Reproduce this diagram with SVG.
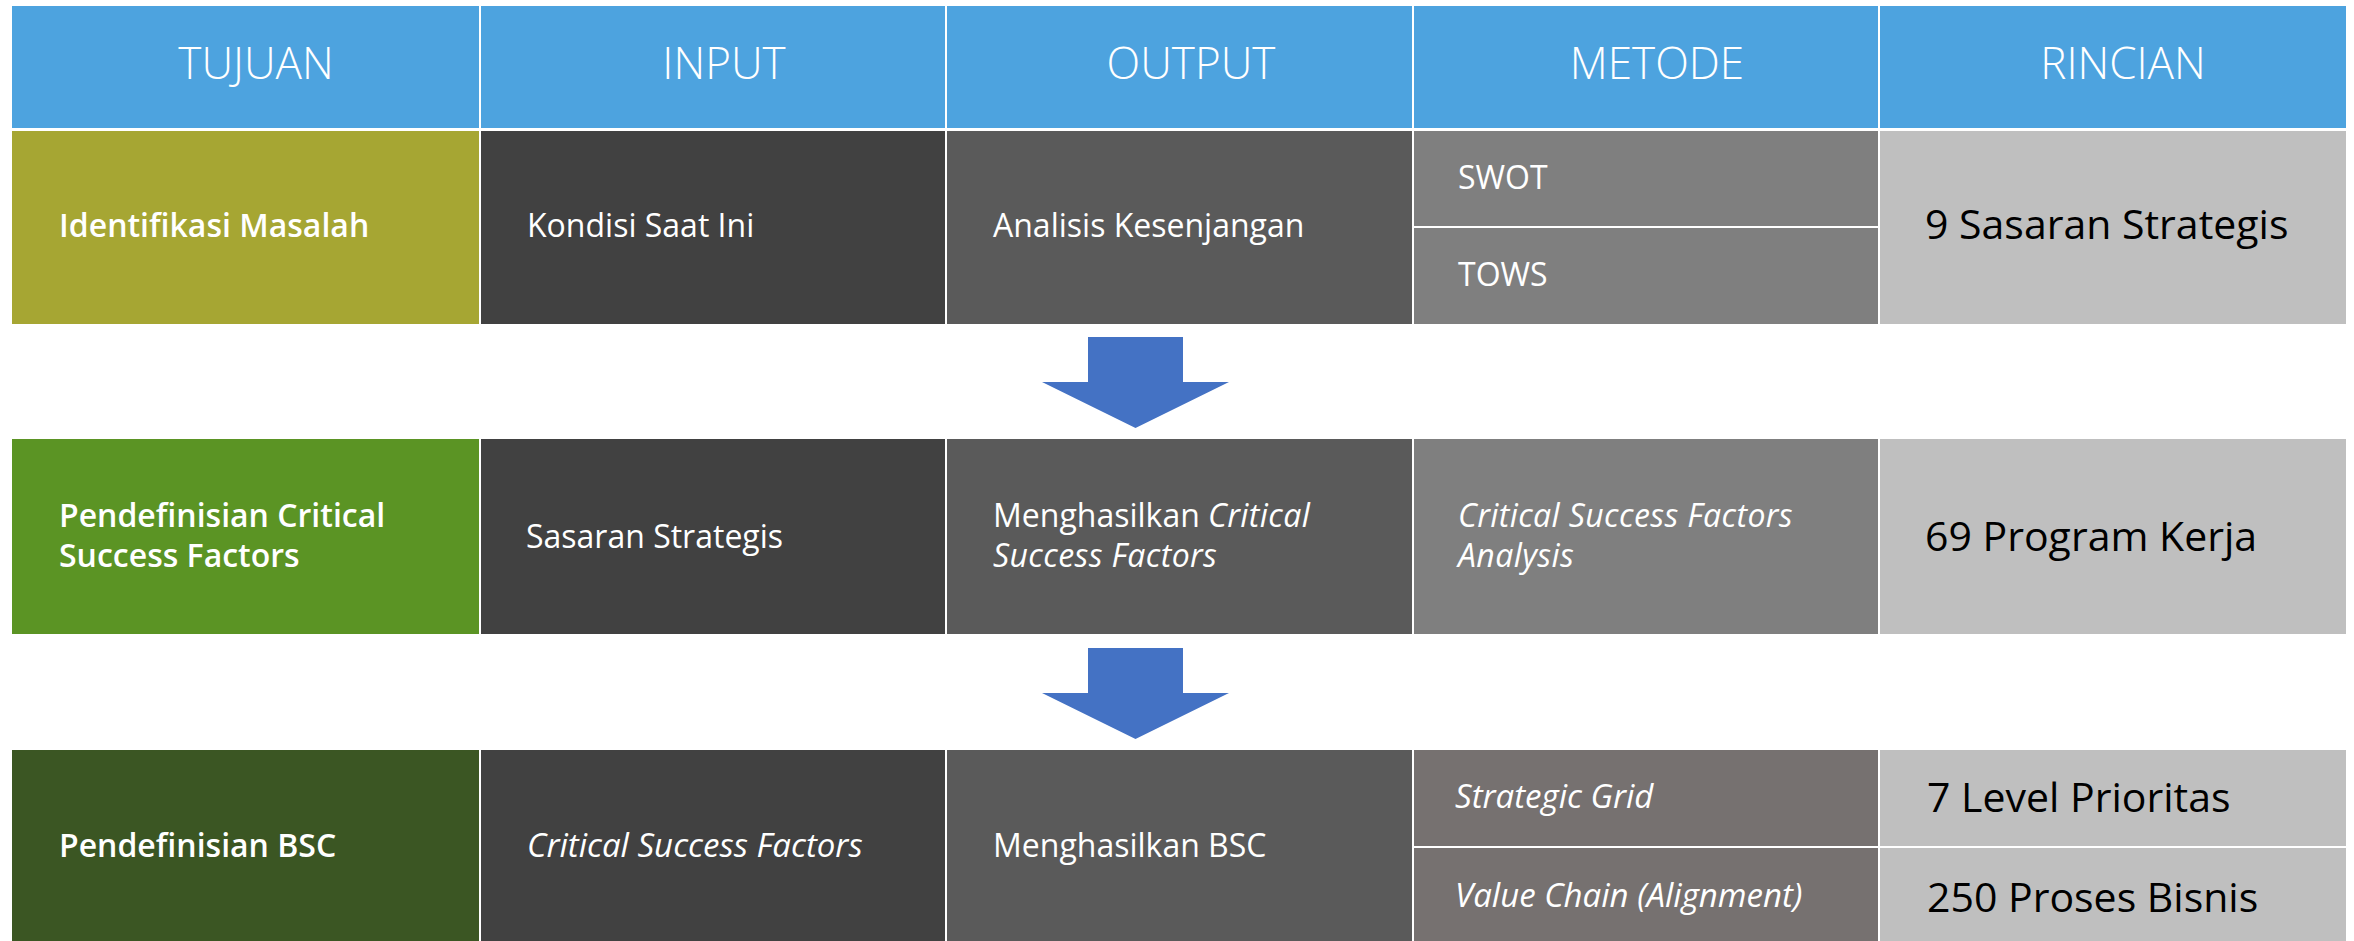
<svg xmlns="http://www.w3.org/2000/svg" width="2354" height="941" viewBox="0 0 2354 941">
<style>
.hd{fill:#4DA3DF}
.ht{font-family:"Open Sans","Liberation Sans",sans-serif;font-size:44px;font-weight:300;fill:#fff;text-anchor:middle}
.tt{font-family:"Open Sans","Liberation Sans",sans-serif;font-size:32px;font-weight:600;fill:#fff}
.bt{font-family:"Open Sans","Liberation Sans",sans-serif;font-size:32px;fill:#fff}
.it{font-family:"Open Sans","Liberation Sans",sans-serif;font-size:33px;font-style:italic;font-weight:400;fill:#fff}
.it2{font-family:"Open Sans","Liberation Sans",sans-serif;font-size:32px;letter-spacing:0.4px;font-style:italic;font-weight:400;fill:#fff}
.rt{font-family:"Open Sans","Liberation Sans",sans-serif;font-size:41px;fill:#000}
.in{fill:#414141}
.out{fill:#5A5A5A}
.me{fill:#7F7F7F}
.me3{fill:#767170}
.ri{fill:#BFBFBF}
.arr{fill:#4472C4}
</style>
<rect width="2354" height="941" fill="#fff"/>
<g id="header">
<rect class="hd" x="12" y="6" width="467" height="122"/>
<rect class="hd" x="481" y="6" width="464" height="122"/>
<rect class="hd" x="947" y="6" width="465" height="122"/>
<rect class="hd" x="1414" y="6" width="464" height="122"/>
<rect class="hd" x="1880" y="6" width="466" height="122"/>
<text class="ht" x="256" y="79">TUJUAN</text>
<text class="ht" x="724" y="79">INPUT</text>
<text class="ht" x="1191" y="79">OUTPUT</text>
<text class="ht" x="1657" y="79">METODE</text>
<text class="ht" x="2123" y="79">RINCIAN</text>
</g>
<g id="row1">
<rect x="12" y="131" width="467" height="193" fill="#A6A633"/>
<text class="tt" x="59" y="237">Identifikasi Masalah</text>
<rect class="in" x="481" y="131" width="464" height="193"/>
<text class="bt" x="527" y="237">Kondisi Saat Ini</text>
<rect class="out" x="947" y="131" width="465" height="193"/>
<text class="bt" x="993" y="237">Analisis Kesenjangan</text>
<rect class="me" x="1414" y="131" width="464" height="95"/>
<text class="bt" x="1458" y="189">SWOT</text>
<rect class="me" x="1414" y="228" width="464" height="96"/>
<text class="bt" x="1458" y="286">TOWS</text>
<rect class="ri" x="1880" y="131" width="466" height="193"/>
<text class="rt" x="1925" y="239">9 Sasaran Strategis</text>
</g>
<g id="row2">
<rect x="12" y="439" width="467" height="195" fill="#5B9424"/>
<text class="tt" x="59" y="527">Pendefinisian Critical<tspan x="59" y="567">Success Factors</tspan></text>
<rect class="in" x="481" y="439" width="464" height="195"/>
<text class="bt" x="526" y="548">Sasaran Strategis</text>
<rect class="out" x="947" y="439" width="465" height="195"/>
<text class="bt" x="993" y="527">Menghasilkan <tspan font-style="italic" letter-spacing="0.4px">Critical</tspan><tspan x="993" y="567" font-style="italic" letter-spacing="0.4px">Success Factors</tspan></text>
<rect class="me" x="1414" y="439" width="464" height="195"/>
<text class="it2" x="1458" y="527">Critical Success Factors<tspan x="1458" y="567">Analysis</tspan></text>
<rect class="ri" x="1880" y="439" width="466" height="195"/>
<text class="rt" x="1925" y="551">69 Program Kerja</text>
</g>
<g id="row3">
<rect x="12" y="750" width="467" height="191" fill="#3B5623"/>
<text class="tt" x="59" y="857">Pendefinisian BSC</text>
<rect class="in" x="481" y="750" width="464" height="191"/>
<text class="it" x="527" y="857">Critical Success Factors</text>
<rect class="out" x="947" y="750" width="465" height="191"/>
<text class="bt" x="993" y="857">Menghasilkan BSC</text>
<rect class="me3" x="1414" y="750" width="464" height="96"/>
<text class="it" x="1455" y="808">Strategic Grid</text>
<rect class="me3" x="1414" y="848" width="464" height="93"/>
<text class="it" x="1455" y="907">Value Chain (Alignment)</text>
<rect class="ri" x="1880" y="750" width="466" height="96"/>
<text class="rt" x="1927" y="812">7 Level Prioritas</text>
<rect class="ri" x="1880" y="848" width="466" height="93"/>
<text class="rt" x="1927" y="912">250 Proses Bisnis</text>
</g>
<g id="connectors">
<polygon class="arr" points="1088,337 1183,337 1183,382 1229,382 1135.5,428 1042,382 1088,382"/>
<polygon class="arr" points="1088,648 1183,648 1183,693 1229,693 1135.5,739 1042,693 1088,693"/>
</g>
</svg>
